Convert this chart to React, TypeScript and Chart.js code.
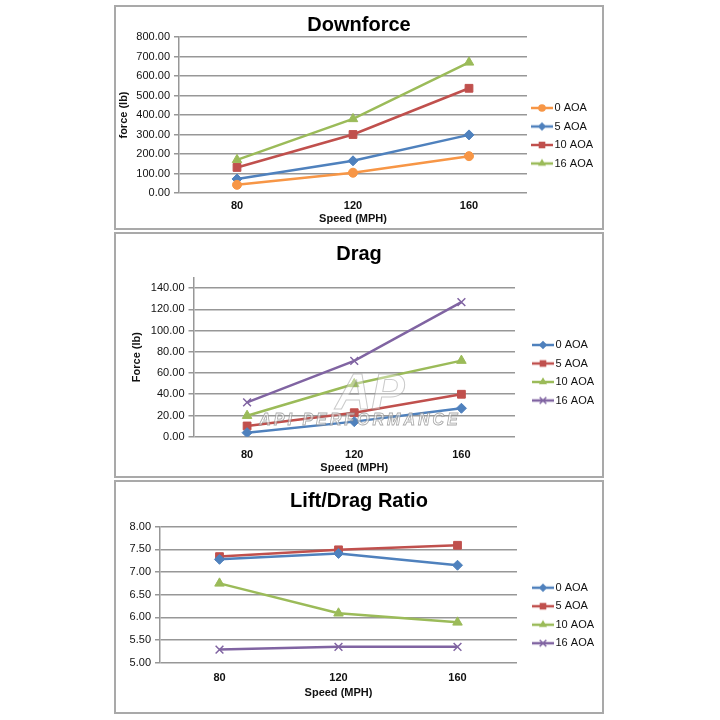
import React, { useEffect, useRef } from 'react';
import { Chart, registerables } from 'chart.js';

Chart.register(...registerables);
Chart.defaults.font.family = '"Liberation Sans", Arial, Helvetica, sans-serif';

// ---------- data ----------
const speeds = ['80', '120', '160'];
const aoaNames = ['0 AOA', '5 AOA', '10 AOA', '16 AOA'];

const downforce0 = [42, 104, 189];
const downforce5 = [72, 165, 298];
const downforce10 = [131, 300, 537];
const downforce16 = [170, 380, 670];

const drag0 = [3.8, 14.2, 26.8];
const drag5 = [10.1, 22.6, 40.0];
const drag10 = [19.8, 49.7, 71.7];
const drag16 = [32.4, 71.4, 126.8];

const ratio0 = [7.28, 7.41, 7.15];
const ratio5 = [7.34, 7.49, 7.59];
const ratio10 = [6.75, 6.09, 5.89];
const ratio16 = [5.29, 5.35, 5.35];

// axis [min, max, step, last labelled tick]
const downforceAxis = [0, 800, 100, 800];
const dragAxis = [0, 150, 20, 140];
const ratioAxis = [5, 8, 0.5, 8];

// ---------- styles ----------
const ORANGE = '#F79646';
const BLUE = '#4F81BD';
const RED = '#C0504D';
const GREEN = '#9BBB59';
const PURPLE = '#8064A2';
const GRID = '#979797';
const TEXT = '#111111';

type Series = { label: string; data: number[]; color: string; style: string; radius: number };

type Spec = {
  title: string;
  yTitle?: string;
  series: Series[];
  axis: number[];
  yWidth: number;
  titlePad: { top: number; bottom: number };
  yTitlePad: number;
  xTickPad: number;
  xHeight: number;
  padBottom: number;
  legendWidth: number;
  legendLeft: number;
  legendFirstY: number;
};

function drawMarker(g: CanvasRenderingContext2D, style: string, x: number, y: number, r: number, color: string) {
  g.fillStyle = color;
  g.strokeStyle = color;
  g.beginPath();
  if (style === 'circle') {
    g.arc(x, y, r, 0, Math.PI * 2);
    g.fill();
  } else if (style === 'rectRot') {
    g.moveTo(x, y - r);
    g.lineTo(x + r, y);
    g.lineTo(x, y + r);
    g.lineTo(x - r, y);
    g.closePath();
    g.fill();
  } else if (style === 'rect') {
    const s = r * Math.SQRT1_2;
    g.rect(x - s, y - s, 2 * s, 2 * s);
    g.fill();
  } else if (style === 'triangle') {
    for (let k = 0; k < 3; k++) {
      const a = -Math.PI / 2 + (k * 2 * Math.PI) / 3;
      const px = x + Math.cos(a) * r;
      const py = y + Math.sin(a) * r;
      if (k === 0) g.moveTo(px, py);
      else g.lineTo(px, py);
    }
    g.closePath();
    g.fill();
  } else if (style === 'crossRot') {
    const d = r * Math.SQRT1_2;
    g.lineWidth = 1.5;
    g.moveTo(x - d, y - d);
    g.lineTo(x + d, y + d);
    g.moveTo(x + d, y - d);
    g.lineTo(x - d, y + d);
    g.stroke();
  }
}

function legendIcon(color: string, style: string, r: number) {
  const c = document.createElement('canvas');
  c.width = 22;
  c.height = 16;
  const g = c.getContext('2d')!;
  g.strokeStyle = color;
  g.lineWidth = 2.5;
  g.beginPath();
  g.moveTo(0, 8);
  g.lineTo(22, 8);
  g.stroke();
  drawMarker(g, style, 11, 8, r * 0.85, color);
  return c;
}

function legendPlacer(spec: Spec) {
  return {
    id: 'legendPlacer',
    beforeLayout(chart: any) {
      const lg = chart.legend;
      if (lg && !lg.__patched) {
        const orig = lg.fit;
        lg.fit = function () {
          orig.call(this);
          this.width = spec.legendWidth;
        };
        lg.__patched = true;
      }
    },
    afterLayout(chart: any) {
      const lg = chart.legend;
      if (!lg) return;
      const p = 7.5;
      const h = 94 + p;
      const t = spec.legendFirstY - 5.5 - p - 10;
      lg.left = spec.legendLeft;
      lg.right = spec.legendLeft + spec.legendWidth;
      lg.top = t;
      lg.bottom = t + h;
      lg.height = h;
    },
  };
}

function buildConfig(spec: Spec): any {
  const [yMin, yMax, yStep, yLast] = spec.axis;
  const icons = spec.series.map((s) => legendIcon(s.color, s.style, s.radius));
  return {
    type: 'line',
    data: {
      labels: speeds,
      datasets: spec.series.map((s) => ({
        label: s.label,
        data: s.data,
        borderColor: s.color,
        backgroundColor: s.color,
        borderWidth: 2.5,
        tension: 0,
        fill: false,
        pointStyle: s.style,
        pointRadius: s.radius,
        pointHoverRadius: s.radius,
        pointBackgroundColor: s.color,
        pointBorderColor: s.color,
        pointBorderWidth: s.style === 'crossRot' ? 1.5 : 1,
      })),
    },
    options: {
      responsive: false,
      maintainAspectRatio: false,
      animation: false,
      events: [],
      layout: { padding: { left: 0, right: 0, top: 0, bottom: spec.padBottom } },
      scales: {
        x: {
          type: 'category',
          offset: true,
          grid: { display: false, drawTicks: false },
          border: { display: false },
          ticks: { padding: spec.xTickPad, color: TEXT, font: { size: 11, weight: 'bold' } },
          title: {
            display: true,
            text: 'Speed (MPH)',
            padding: 0,
            color: TEXT,
            font: { size: 11, weight: 'bold' },
          },
          afterFit: (s: any) => {
            s.height = spec.xHeight;
          },
        },
        y: {
          type: 'linear',
          min: yMin,
          max: yMax,
          ticks: {
            stepSize: yStep,
            padding: 4,
            color: TEXT,
            font: { size: 11 },
            callback: (v: any) => Number(v).toFixed(2),
          },
          grid: { color: GRID, lineWidth: 1.5, drawTicks: true, tickLength: 5 },
          border: { display: true, color: GRID, width: 1.5 },
          title: spec.yTitle
            ? {
                display: true,
                text: spec.yTitle,
                padding: { top: spec.yTitlePad, bottom: 0 },
                color: TEXT,
                font: { size: 11, weight: 'bold' },
              }
            : { display: false },
          afterBuildTicks: (s: any) => {
            const list: { value: number }[] = [];
            const n = Math.round((yLast - yMin) / yStep);
            for (let k = 0; k <= n; k++) list.push({ value: +(yMin + k * yStep).toFixed(6) });
            s.ticks = list;
          },
          afterFit: (s: any) => {
            s.width = spec.yWidth;
          },
        },
      },
      plugins: {
        title: {
          display: true,
          text: spec.title,
          padding: spec.titlePad,
          color: '#000',
          font: { size: 20, weight: 'bold' },
        },
        legend: {
          display: true,
          position: 'right',
          labels: {
            usePointStyle: true,
            pointStyleWidth: 14,
            padding: 7.5,
            color: TEXT,
            font: { size: 11 },
            generateLabels: (chart: any) =>
              chart.data.datasets.map((ds: any, i: number) => ({
                text: ds.label,
                fillStyle: ds.borderColor,
                strokeStyle: ds.borderColor,
                lineWidth: 0,
                pointStyle: icons[i],
                hidden: false,
                datasetIndex: i,
                fontColor: TEXT,
              })),
          },
        },
        tooltip: { enabled: false },
      },
    },
    plugins: [legendPlacer(spec)],
  };
}

const downforceSpec: Spec = {
  title: 'Downforce',
  yTitle: 'force (lb)',
  series: [
    { label: aoaNames[0], data: downforce0, color: ORANGE, style: 'circle', radius: 4.5 },
    { label: aoaNames[1], data: downforce5, color: BLUE, style: 'rectRot', radius: 5 },
    { label: aoaNames[2], data: downforce10, color: RED, style: 'rect', radius: 5.5 },
    { label: aoaNames[3], data: downforce16, color: GREEN, style: 'triangle', radius: 5.5 },
  ],
  axis: downforceAxis,
  yWidth: 63,
  titlePad: { top: 6, bottom: 0 },
  yTitlePad: 1.4,
  xTickPad: 6.1,
  xHeight: 32.6,
  padBottom: 2.4,
  legendWidth: 75,
  legendLeft: 411.5,
  legendFirstY: 101,
};

const dragSpec: Spec = {
  title: 'Drag',
  yTitle: 'Force (lb)',
  series: [
    { label: aoaNames[0], data: drag0, color: BLUE, style: 'rectRot', radius: 5 },
    { label: aoaNames[1], data: drag5, color: RED, style: 'rect', radius: 5.5 },
    { label: aoaNames[2], data: drag10, color: GREEN, style: 'triangle', radius: 5.5 },
    { label: aoaNames[3], data: drag16, color: PURPLE, style: 'crossRot', radius: 5.5 },
  ],
  axis: dragAxis,
  yWidth: 77.5,
  titlePad: { top: 8, bottom: 11.5 },
  yTitlePad: 14.1,
  xTickPad: 11.7,
  xHeight: 38.2,
  padBottom: 1.1,
  legendWidth: 87,
  legendLeft: 412.5,
  legendFirstY: 111,
};

const ratioSpec: Spec = {
  title: 'Lift/Drag Ratio',
  series: [
    { label: aoaNames[0], data: ratio0, color: BLUE, style: 'rectRot', radius: 5 },
    { label: aoaNames[1], data: ratio5, color: RED, style: 'rect', radius: 5.5 },
    { label: aoaNames[2], data: ratio10, color: GREEN, style: 'triangle', radius: 5.5 },
    { label: aoaNames[3], data: ratio16, color: PURPLE, style: 'crossRot', radius: 5.5 },
  ],
  axis: ratioAxis,
  yWidth: 44,
  titlePad: { top: 7.7, bottom: 13 },
  yTitlePad: 0,
  xTickPad: 9,
  xHeight: 36.9,
  padBottom: 12.4,
  legendWidth: 85,
  legendLeft: 412.5,
  legendFirstY: 105.7,
};

function ChartBox({ spec, top, height, children }: { spec: Spec; top: number; height: number; children?: any }) {
  const ref = useRef<HTMLCanvasElement>(null);
  const innerH = height - 4;
  useEffect(() => {
    const chart = new Chart(ref.current as HTMLCanvasElement, buildConfig(spec));
    return () => chart.destroy();
  }, []);
  return (
    <div
      style={{
        position: 'absolute',
        left: 114,
        top,
        width: 490,
        height,
        border: '2px solid #a9a9a9',
        boxSizing: 'border-box',
        background: '#fff',
        overflow: 'hidden',
      }}
    >
      <canvas ref={ref} width={486} height={innerH} style={{ display: 'block', width: 486, height: innerH }} />
      {children}
    </div>
  );
}

const wmBase: any = {
  position: 'absolute',
  transform: 'translate(-50%, -50%)',
  whiteSpace: 'nowrap',
  fontFamily: '"Liberation Sans", Arial, sans-serif',
  fontStyle: 'italic',
  fontWeight: 'bold',
  pointerEvents: 'none',
  lineHeight: 1,
};

export default function App() {
  return (
    <div style={{ position: 'fixed', left: 0, top: 0, width: 720, height: 720, background: '#fff' }}>
      <ChartBox spec={downforceSpec} top={5} height={225} />
      <ChartBox spec={dragSpec} top={232} height={246}>
        <div
          style={{
            ...wmBase,
            left: 254,
            top: 158,
            fontSize: 50,
            color: 'rgba(255,255,255,0.35)',
            WebkitTextStroke: '1px rgba(150,150,150,0.5)',
          }}
        >
          AP
        </div>
        <div
          style={{
            ...wmBase,
            left: 244,
            top: 186,
            fontSize: 16,
            letterSpacing: 3,
            color: 'rgba(255,255,255,0.55)',
            WebkitTextStroke: '0.8px rgba(140,140,140,0.75)',
          }}
        >
          API PERFORMANCE
        </div>
      </ChartBox>
      <ChartBox spec={ratioSpec} top={480} height={234} />
    </div>
  );
}
